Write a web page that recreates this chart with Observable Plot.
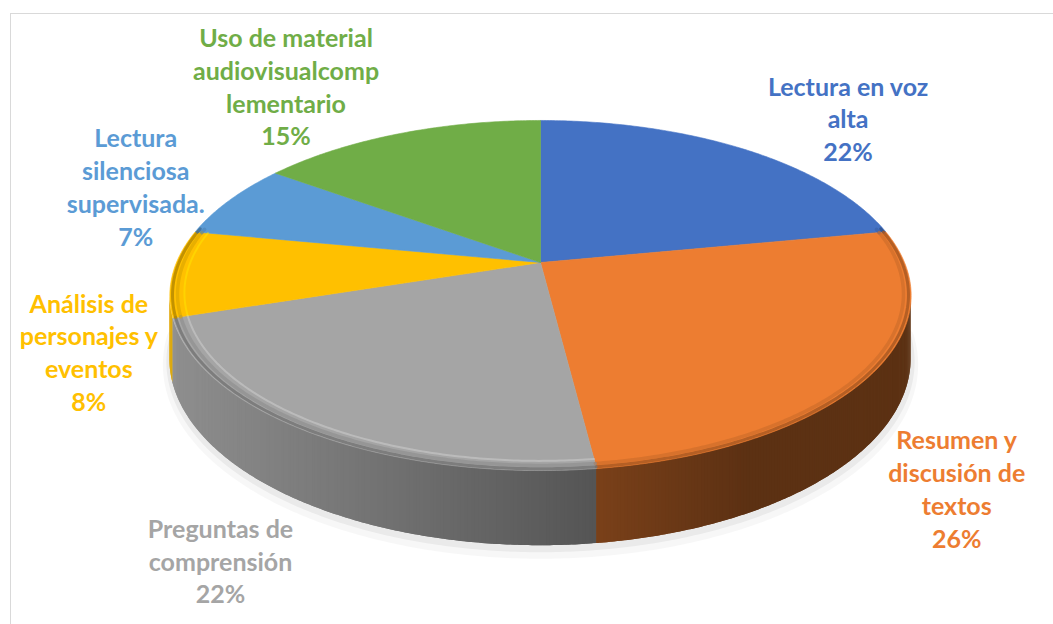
<!DOCTYPE html>
<html><head><meta charset="utf-8">
<script src="https://cdn.jsdelivr.net/npm/d3@7"></script>
<script src="https://cdn.jsdelivr.net/npm/@observablehq/plot@0.6"></script>
<style>body{margin:0;background:#fff}#chart{width:1053px;height:624px}</style>
</head><body><div id="chart"></div>
<script>
// ---- data ----
const categories = [
  "Lectura en voz\nalta",
  "Resumen y\ndiscusión de\ntextos",
  "Preguntas de\ncomprensión",
  "Análisis de\npersonajes y\neventos",
  "Lectura\nsilenciosa\nsupervisada.",
  "Uso de material\naudiovisualcomp\nlementario"
];
const percents = [22, 26, 22, 8, 7, 15];
const colors = ["#4472C4", "#ED7D31", "#A5A5A5", "#FFC000", "#5B9BD5", "#70AD47"];

// ---- layout (label nudges from each slice's rim mid-point, px; rim highlight strength) ----
const labelNudgeX = [105, 85, -88, -84, -94, -113];
const labelNudgeY = [-31, 114, 128, 78, -14, -48];
const highlight = [0, 0, 0.7, 0.5, 0, 0];

const W = 1053, H = 624;
const A = 364, B = 168.8, K = 0.1886, CX = 540, CY = 262, DEPTH = 61;
function proj(t, r = 1) {
  const s = Math.sin(t) * r, c = Math.cos(t) * r, d = 1 + K * c;
  return {u: s / d, v: -c / d};
}
function drop(t) { return DEPTH / (1 + K * Math.cos(t)) / B; }
function shade(col, u, f0) {
  const f = f0 ?? Math.max(0.39, 0.86 - 0.30 * (u + 1));
  const c = d3.rgb(col);
  return d3.rgb(c.r * f, c.g * f, c.b * f).formatHex();
}

const arcs = d3.pie().sort(null).value(d => d)(percents);
const th1 = Math.acos(-K), th2 = 2 * Math.PI - th1;

function arcPts(a, b, r, step = 0.01) {
  const n = Math.max(2, Math.ceil((b - a) / step));
  return d3.range(n + 1).map(j => a + (b - a) * j / n).map(t => ({t, ...proj(t, r)}));
}

// top faces
const faceMarks = arcs.map((p, i) => {
  const pts = [{u: 0, v: 0}, ...arcPts(p.startAngle, p.endAngle, 1), {u: 0, v: 0}];
  return Plot.line(pts, {x: "u", y: "v", fill: colors[i], stroke: colors[i], strokeWidth: 0.6});
});

// walls: thin overlapping strips, each shaded by its horizontal position
const wallSegs = [];
arcs.forEach((p, i) => {
  const a = Math.max(p.startAngle, th1), b = Math.min(p.endAngle, th2);
  if (a >= b) return;
  const pts = arcPts(a, b, 1, 0.008);
  for (let j = 0; j < pts.length - 1; j++) {
    const um = (pts[j].u + pts[j + 1].u) / 2;
    const fill = shade(colors[i], um);
    const seg = pts.slice(j, Math.min(j + 3, pts.length));
    for (const q of seg) {
      wallSegs.push({z: i + "-" + j, u: q.u, v1: q.v, v2: q.v + drop(q.t), fill});
    }
  }
});

// shadow under the front rim
const shadowPts = arcPts(th1 - 0.15, th2 + 0.15, 1).map(q => ({u: q.u, v: q.v + drop(q.t)}));

// bevel bands along the front rim
const bevelMarks = [];
arcs.forEach((p, i) => {
  const a = Math.max(p.startAngle, th1 - 0.4), b = Math.min(p.endAngle, th2 + 0.4);
  if (a >= b) return;
  bevelMarks.push(Plot.line(arcPts(a, b, 0.993), {x: "u", y: "v", stroke: shade(colors[i], 0, 0.7), strokeWidth: 3, strokeOpacity: 0.8}));
  bevelMarks.push(Plot.line(arcPts(a, b, 0.98), {x: "u", y: "v", stroke: shade(colors[i], 0, 0.85), strokeWidth: 3.5, strokeOpacity: 0.6}));
  if (highlight[i] > 0)
    bevelMarks.push(Plot.line(arcPts(a, b, 0.962), {x: "u", y: "v", stroke: d3.rgb(colors[i]).brighter(0.5).formatHex(), strokeWidth: 2, strokeOpacity: highlight[i]}));
});

// labels
const labels = arcs.map((p, i) => {
  const m = proj((p.startAngle + p.endAngle) / 2, 1);
  return {
    u: m.u + labelNudgeX[i] / A,
    v: m.v + labelNudgeY[i] / B,
    text: categories[i] + "\n" + percents[i] + "%",
    color: colors[i]
  };
});

const chart = Plot.plot({
  width: W, height: H,
  marginLeft: 10, marginTop: 13, marginRight: 0, marginBottom: 0,
  x: {domain: [-CX / A, (W - CX) / A], range: [0, W], axis: null},
  y: {domain: [-CY / B, (H - CY) / B], range: [0, H], axis: null},
  color: {type: "identity"},
  style: {background: "#fff", overflow: "visible"},
  marks: [
    Plot.frame({stroke: "#d9d9d9", insetRight: -20, insetBottom: -20}),
    Plot.line(shadowPts, {x: "u", y: d => d.v + 6 / B, stroke: "#000", strokeOpacity: 0.03, strokeWidth: 14}),
    Plot.line(shadowPts, {x: "u", y: d => d.v + 3 / B, stroke: "#000", strokeOpacity: 0.05, strokeWidth: 7}),
    Plot.areaY(wallSegs, {x: "u", y1: "v1", y2: "v2", z: "z", fill: "fill"}),
    ...faceMarks,
    ...bevelMarks,
    Plot.text(labels, {
      x: "u", y: "v", text: "text", fill: "color",
      fontSize: 25, fontWeight: "bold", fontFamily: "Lato",
      lineHeight: 1.31, textAnchor: "middle", lineAnchor: "middle"
    })
  ]
});
document.getElementById("chart").appendChild(chart);
</script>
</body></html>
